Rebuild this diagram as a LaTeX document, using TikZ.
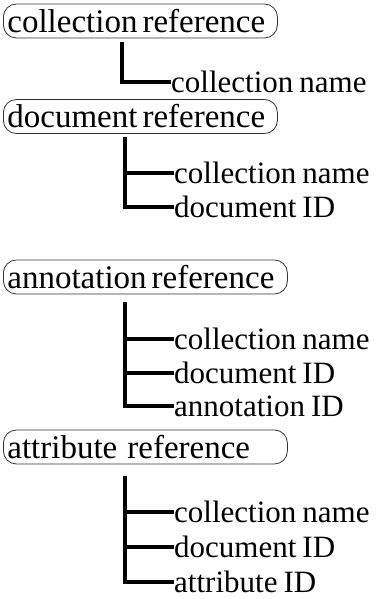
\documentclass[tikz,border=0pt]{standalone}
\usepackage{fontspec}
\setmainfont{Liberation Serif}
\usepackage{tikz}

\newcommand{\reffont}{\fontsize{33}{36}\selectfont}
\newcommand{\leaffont}{\fontsize{31}{35}\selectfont\spaceskip=6pt\relax}

\begin{document}
\begin{tikzpicture}[x=1pt, y=-1pt,
    refbox/.style={draw=black!80, line width=0.8pt, rounded corners=13pt,
      anchor=west, inner xsep=4pt, inner ysep=0pt, minimum height=34pt,
      align=left, font=\reffont, execute at begin node={\spaceskip=5pt\relax}},
    leaf/.style={anchor=west, inner xsep=2pt, inner ysep=0pt,
      text height=21pt, text depth=0pt, font=\leaffont},
    branch/.style={line width=3.2pt, line cap=rect}]
  \useasboundingbox (0,0) rectangle (381,599);
  % collection reference
  \node[refbox, text width=266pt] (colref) at (3,21) {collection reference};
  \coordinate (t1) at (122,44);
  \node[leaf] (c1) at (169,82) {collection name};
  \draw[branch] (t1) |- (c1.west);
  % document reference
  \node[refbox, text width=266pt] (docref) at (3,116.5) {document reference};
  \coordinate (t2) at (125,139);
  \node[leaf] (c2) at (172,173) {collection name};
  \node[leaf] (d2) at (172,207) {document ID};
  \draw[branch] (t2) |- (c2.west);
  \draw[branch] (t2) |- (d2.west);
  % annotation reference
  \node[refbox, text width=276pt] (annref) at (3,277) {annotation reference};
  \coordinate (t3) at (125,304);
  \node[leaf] (c3) at (172,339) {collection name};
  \node[leaf] (d3) at (172,373) {document ID};
  \node[leaf] (a3) at (172,406) {annotation ID};
  \draw[branch] (t3) |- (c3.west);
  \draw[branch] (t3) |- (d3.west);
  \draw[branch] (t3) |- (a3.west);
  % attribute reference
  \node[refbox, text width=276pt] (attref) at (3,447) {attribute\ \ reference};
  \coordinate (t4) at (125,478);
  \node[leaf] (c4) at (172,512) {collection name};
  \node[leaf] (d4) at (172,547) {document ID};
  \node[leaf] (a4) at (172,582) {attribute ID};
  \draw[branch] (t4) |- (c4.west);
  \draw[branch] (t4) |- (d4.west);
  \draw[branch] (t4) |- (a4.west);
\end{tikzpicture}
\end{document}
